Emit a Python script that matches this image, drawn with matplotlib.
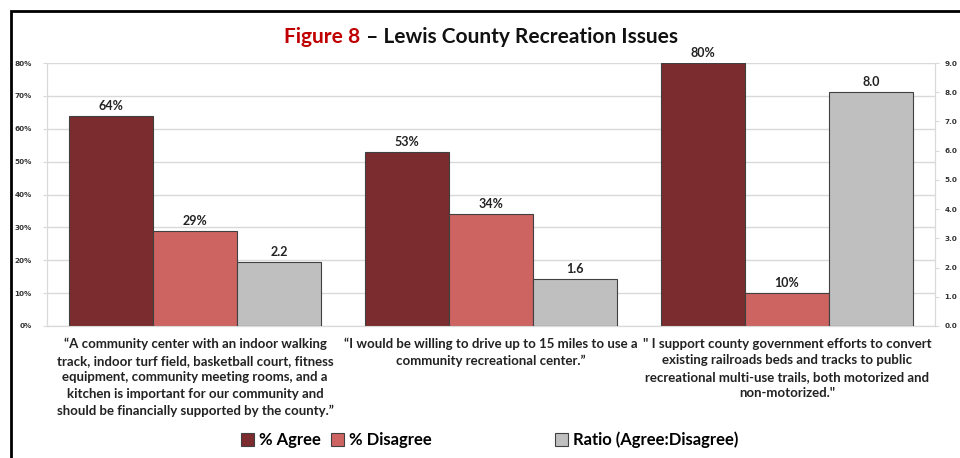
import matplotlib
matplotlib.use("Agg")
import matplotlib.pyplot as plt
from matplotlib.patches import Patch, Rectangle
import numpy as np

categories = [
    "\u201cA community center with an indoor walking\ntrack, indoor turf field, basketball court, fitness\nequipment, community meeting rooms, and a\nkitchen is important for our community and\nshould be financially supported by the county.\u201d",
    "\u201cI would be willing to drive up to 15 miles to use a\ncommunity recreational center.\u201d",
    "\" I support county government efforts to convert\nexisting railroads beds and tracks to public\nrecreational multi-use trails, both motorized and\nnon-motorized.\"",
]
agree = [64, 53, 80]
disagree = [29, 34, 10]
ratio = [2.2, 1.6, 8.0]
pct_ticks = [0, 10, 20, 30, 40, 50, 60, 70, 80]
ratio_ticks = [0, 1, 2, 3, 4, 5, 6, 7, 8, 9]
series_names = ["% Agree", "% Disagree", "Ratio (Agree:Disagree)"]

plt.rcParams['font.family'] = ['Lato', 'DejaVu Sans']

c_agree = '#7B2C2E'
c_dis = '#CD6461'
c_ratio = '#BFBFBF'
edge = '#404040'
grid_c = '#D9D9D9'

fig = plt.figure(figsize=(9.6, 4.58), dpi=100)
W, H = 960, 458
ax = fig.add_axes([47 / W, 1 - 326 / H, 888 / W, 263 / H])
ax2 = ax.twinx()

x = np.arange(len(categories))
bw = 84 / 296

ax.bar(x - bw, agree, bw, color=c_agree, edgecolor=edge, linewidth=0.8, zorder=3)
ax.bar(x, disagree, bw, color=c_dis, edgecolor=edge, linewidth=0.8, zorder=3)
ax2.bar(x + bw, ratio, bw, color=c_ratio, edgecolor=edge, linewidth=0.8, zorder=3)

ax.set_xlim(-0.5, 2.5)
ax.set_ylim(0, 80)
ax2.set_ylim(0, 9)
ax.set_yticks(pct_ticks)
ax.set_yticklabels([f"{t}%" for t in pct_ticks], fontsize=5.2, fontweight='bold',
                   family=['DejaVu Sans'], color='#333333')
ax2.set_yticks(ratio_ticks)
ax2.set_yticklabels([f"{t:.1f}" for t in ratio_ticks], fontsize=5.2, fontweight='bold',
                    family=['DejaVu Sans'], color='#333333')
ax.yaxis.grid(True, color=grid_c, linewidth=1, zorder=0)
ax.set_axisbelow(True)
ax.set_xticks([])
for a in (ax, ax2):
    for s in a.spines.values():
        s.set_color(grid_c)
    a.spines['top'].set_visible(False)
    a.tick_params(axis='y', length=3, color=grid_c)
ax.tick_params(axis='y', pad=8)
ax2.tick_params(axis='y', pad=4)

for i in range(len(categories)):
    ax.text(x[i] - bw, agree[i] + 1.2, f"{agree[i]}%", ha='center', va='bottom',
            fontsize=9, fontweight='bold', color='#222222', clip_on=False)
    ax.text(x[i], disagree[i] + 1.2, f"{disagree[i]}%", ha='center', va='bottom',
            fontsize=9, fontweight='bold', color='#222222', clip_on=False)
    ax2.text(x[i] + bw, ratio[i] + 0.135, f"{ratio[i]:.1f}", ha='center', va='bottom',
             fontsize=9, fontweight='bold', color='#222222', clip_on=False)
    ax.text(x[i], -3.6, categories[i], ha='center', va='top', fontsize=9.5,
            fontweight='bold', color='#222222', linespacing=1.45)

# Title in two colours
fig.canvas.draw()
r = fig.canvas.get_renderer()
t1 = fig.text(0, 1 - 37 / H, "Figure 8", color='#C00000', fontsize=15, fontweight='bold', va='center')
t2 = fig.text(0, 1 - 37 / H, " \u2013 Lewis County Recreation Issues", color='#111111', fontsize=15,
              fontweight='bold', va='center')
w1 = t1.get_window_extent(r).width
w2 = t2.get_window_extent(r).width
start = 481 - (w1 + w2) / 2
t1.set_x(start / W)
t2.set_x((start + w1) / W)

# Legend: three entries placed like the reference
colors = [c_agree, c_dis, c_ratio]
lefts = [241, 331, 555]
for name, col, lx in zip(series_names, colors, lefts):
    fig.legend([Patch(facecolor=col, edgecolor=edge, linewidth=0.8)], [name],
               loc='center left', bbox_to_anchor=(lx / W, 1 - 440 / H),
               frameon=False, prop={'size': 12, 'weight': 'bold'}, handlelength=0.8,
               handleheight=0.8, handletextpad=0.3, borderpad=0, borderaxespad=0)

# Outer frame
fig.add_artist(Rectangle((11 / W, -0.1), 2, 1.1 - 11 / H, transform=fig.transFigure,
                         fill=False, edgecolor='black', linewidth=2))

fig.savefig("out.png", dpi=100, facecolor='white')
